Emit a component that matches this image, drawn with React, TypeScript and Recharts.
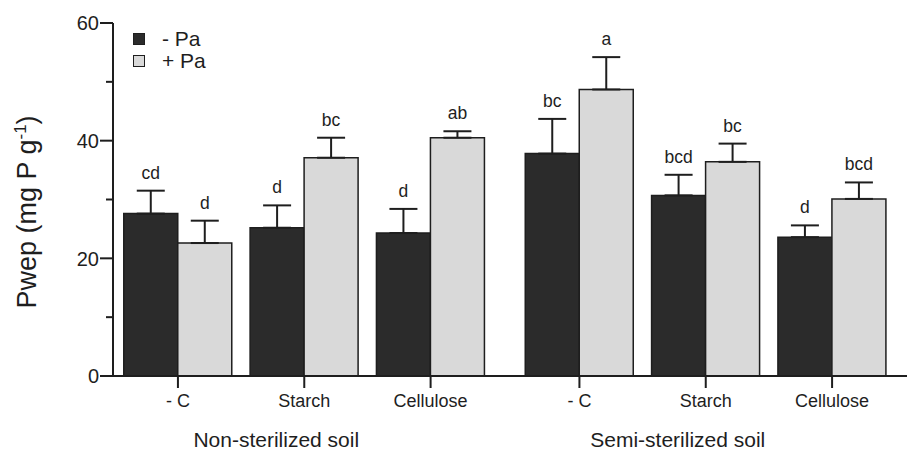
import { BarChart, Bar, XAxis, YAxis, ErrorBar, LabelList, Legend } from "recharts";

const categories = ["- C", "Starch", "Cellulose", "- C", "Starch", "Cellulose"];
const soils = ["Non-sterilized soil", "Semi-sterilized soil"];
const seriesNames = ["- Pa", "+ Pa"];
const minusPa = [27.6, 25.2, 24.3, 37.8, 30.7, 23.6];
const plusPa = [22.6, 37.1, 40.5, 48.7, 36.4, 30.1];
const minusPaErr = [3.9, 3.8, 4.1, 5.9, 3.5, 2.0];
const plusPaErr = [3.8, 3.4, 1.1, 5.5, 3.1, 2.8];
const minusPaLetters = ["cd", "d", "d", "bc", "bcd", "d"];
const plusPaLetters = ["d", "bc", "ab", "a", "bc", "bcd"];
const yTicks = [0, 10, 20, 30, 40, 50, 60];

const FONT = "'Liberation Sans', Arial, Helvetica, sans-serif";
const INK = "#1e1e1e";
const DARK = "#2b2b2b";
const LIGHT = "#d9d9d9";
const GROUP_GAP = 0.178;

const data = categories.map((c, i) => ({
  pos: i + Math.floor(i / 3) * GROUP_GAP,
  category: c,
  minus: minusPa[i],
  plus: plusPa[i],
  minusErr: [0, minusPaErr[i]],
  plusErr: [0, plusPaErr[i]],
  minusLetter: minusPaLetters[i],
  plusLetter: plusPaLetters[i],
}));

const XTick = (props: any) => {
  const { x, y, index } = props;
  return (
    <g>
      <text x={x} y={y} dy="0.71em" textAnchor="middle" fontSize={18} fontFamily={FONT} fill={INK}>
        {categories[index]}
      </text>
      {index % 3 === 1 && (
        <text x={x - 28} y={y + 53} textAnchor="middle" fontSize={21} fontFamily={FONT} fill={INK}>
          {soils[Math.floor(index / 3)]}
        </text>
      )}
    </g>
  );
};

const YTick = (props: any) => {
  const { x, y, payload } = props;
  const major = payload.value % 20 === 0;
  return (
    <g>
      <line x1={x - (major ? 13 : 7)} x2={x} y1={y} y2={y} stroke={INK} strokeWidth={2} />
      {major && (
        <text x={x - 14} y={y} dy="0.36em" textAnchor="end" fontSize={20} fontFamily={FONT} fill={INK}>
          {payload.value}
        </text>
      )}
    </g>
  );
};

const letterContent = (vals: number[], errs: number[]) => (props: any) => {
  const vb = props.viewBox || props;
  const { index, value } = props;
  const k = vb.height / vals[index];
  const capY = vb.y - errs[index] * k;
  return (
    <text x={vb.x + vb.width / 2} y={capY - 12} textAnchor="middle" fontSize={17.5} fontFamily={FONT} fill={INK}>
      {value}
    </text>
  );
};

const LegendBox = () => (
  <div style={{ fontFamily: FONT, fontSize: 21, color: INK, width: 120 }}>
    {seriesNames.map((n, i) => (
      <div key={n} style={{ display: "flex", alignItems: "center", height: 22, whiteSpace: "nowrap" }}>
        <span
          style={{
            display: "inline-block",
            flex: "0 0 auto",
            width: 10,
            height: 10,
            background: i === 0 ? DARK : LIGHT,
            border: `1.5px solid ${INK}`,
            marginRight: 17,
          }}
        />
        <span>{n}</span>
      </div>
    ))}
  </div>
);

const YLabel = () => (
  <text
    x={0}
    y={0}
    transform="translate(36 212) rotate(-90)"
    textAnchor="middle"
    fontSize={27}
    fontFamily={FONT}
    fill={INK}
  >
    Pwep (mg P g
    <tspan dy={-10} fontSize={17}>-1</tspan>
    <tspan dy={10}>)</tspan>
  </text>
);

function App() {
  return (
    <div style={{ position: "absolute", left: 0, top: 0, background: "#fff" }}>
      <BarChart
        width={907}
        height={451}
        data={data}
        margin={{ top: 23, right: 0, bottom: 0, left: 0 }}
        barGap={0}
      >
        <XAxis
          dataKey="pos"
          type="number"
          domain={[-0.514, 5.771]}
          ticks={data.map((d) => d.pos)}
          allowDataOverflow
          height={75}
          tickSize={12}
          tickMargin={6}
          tick={<XTick />}
          stroke={INK}
          axisLine={{ stroke: INK, strokeWidth: 2 }}
          tickLine={{ stroke: INK, strokeWidth: 2 }}
        />
        <YAxis
          type="number"
          domain={[0, 60]}
          ticks={yTicks}
          width={113}
          tickSize={0}
          tickMargin={0}
          tickLine={false}
          tick={<YTick />}
          axisLine={{ stroke: INK, strokeWidth: 2 }}
          label={{ content: <YLabel /> }}
        />
        <Legend
          verticalAlign="top"
          align="left"
          layout="vertical"
          content={<LegendBox />}
          wrapperStyle={{ left: 133, top: 28, width: 0, height: 0 }}
        />
        <Bar dataKey="minus" name={seriesNames[0]} fill={DARK} stroke={INK} strokeWidth={1.5} barSize={54} isAnimationActive={false}>
          <ErrorBar dataKey="minusErr" direction="y" width={14} stroke={INK} strokeWidth={2} />
          <LabelList dataKey="minusLetter" content={letterContent(minusPa, minusPaErr)} />
        </Bar>
        <Bar dataKey="plus" name={seriesNames[1]} fill={LIGHT} stroke={INK} strokeWidth={1.5} barSize={54} isAnimationActive={false}>
          <ErrorBar dataKey="plusErr" direction="y" width={14} stroke={INK} strokeWidth={2} />
          <LabelList dataKey="plusLetter" content={letterContent(plusPa, plusPaErr)} />
        </Bar>
      </BarChart>
    </div>
  );
}

export default App;
